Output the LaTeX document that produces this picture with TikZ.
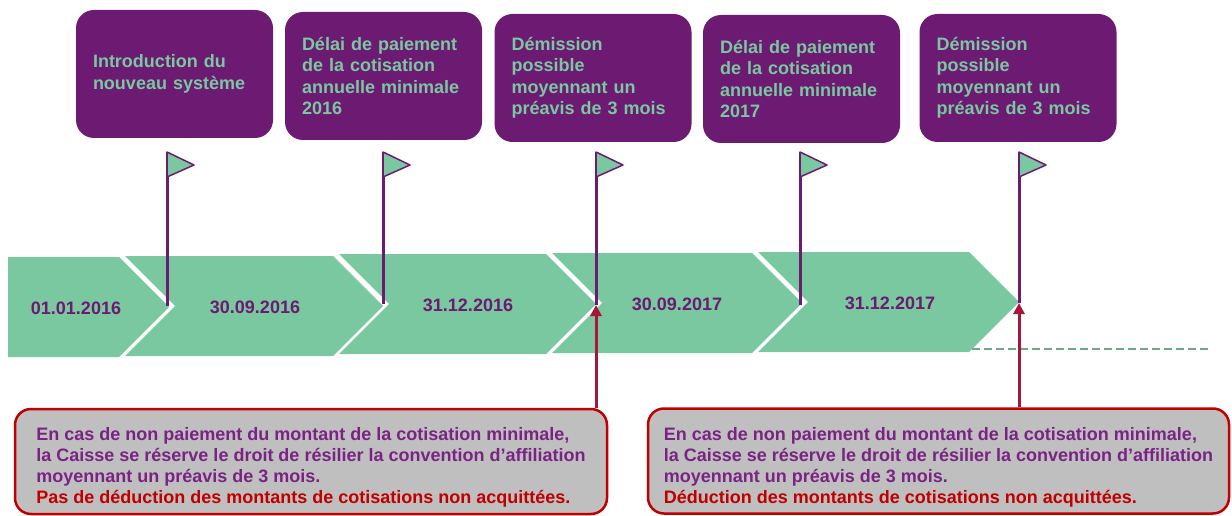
\documentclass[tikz,border=0pt]{standalone}
\usepackage{fontspec}
\setmainfont{Liberation Sans}
\usetikzlibrary{arrows.meta}
\definecolor{plum}{HTML}{6D1A73}
\definecolor{mint}{HTML}{7AC8A0}
\definecolor{notegray}{HTML}{BFBFBF}
\definecolor{notered}{HTML}{C00000}
\definecolor{arrowred}{HTML}{A8173A}
\definecolor{notepurple}{HTML}{7A2384}
\begin{document}
\begin{tikzpicture}[x=1pt,y=-1pt,
  topbox/.style={fill=plum, rounded corners=18pt, text=mint, align=left, text width=163pt,
    inner xsep=17pt, inner ysep=0pt, minimum height=128pt, font=\bfseries\fontsize{18}{21.5}\selectfont},
  datelabel/.style={text=plum, inner sep=0pt, font=\bfseries\fontsize{18}{21}\selectfont},
  notebox/.style={draw=notered, line width=2.5pt, fill=notegray, rounded corners=16pt, text=notepurple,
    align=left, inner ysep=0pt, minimum height=105pt, font=\bfseries\fontsize{18}{21}\selectfont},
  flagpole/.style={draw=plum, line width=3pt},
  flagtri/.style={fill=mint, draw=plum, line width=1.5pt, line join=round},
  redarrow/.style={draw=arrowred, line width=3pt, -{Triangle[length=11pt,width=11pt]}}]
\useasboundingbox (0,0) rectangle (1232,516);

\node[topbox] (box1) at (174.5,74) {Introduction du\\nouveau système};
\node[topbox] (box2) at (383.5,76) {Délai de paiement\\de la cotisation\\annuelle~minimale\\2016};
\node[topbox] (box3) at (593,78) {Démission\\possible\\moyennant~un\\préavis~de~3~mois};
\node[topbox] (box4) at (801.5,79) {Délai de paiement\\de la cotisation\\annuelle~minimale\\2017};
\node[topbox] (box5) at (1018,78) {Démission\\possible\\moyennant~un\\préavis~de~3~mois};

\fill[mint] (8,257) -- (119,257) -- (169,307) -- (119,357) -- (8,357) -- cycle;
\fill[mint] (125,256) -- (333,256) -- (383,306) -- (333,356) -- (125,356) -- (175,306) -- cycle;
\fill[mint] (339,254) -- (546,254) -- (596,304) -- (546,354) -- (339,354) -- (389,304) -- cycle;
\fill[mint] (552,253) -- (752,253) -- (802,303) -- (752,353) -- (552,353) -- (602,303) -- cycle;
\fill[mint] (758,252) -- (969,252) -- (1019,302) -- (969,352) -- (758,352) -- (808,302) -- cycle;

\node[datelabel] (d1) at (76,308) {01.01.2016};
\node[datelabel] (d2) at (255,307) {30.09.2016};
\node[datelabel] (d3) at (468,305) {31.12.2016};
\node[datelabel] (d4) at (677,304) {30.09.2017};
\node[datelabel] (d5) at (890,303) {31.12.2017};

\coordinate (dashA) at (972,349);
\coordinate (dashB) at (1209,349);
\draw[mint!85!black, line width=2.5pt, dash pattern=on 8pt off 4pt] (dashA) -- (dashB);

\coordinate (f1) at (167,152); \coordinate (t1) at (167,306);
\coordinate (f2) at (383,152); \coordinate (t2) at (383,304);
\coordinate (f3) at (596,152); \coordinate (t3) at (596,305);
\coordinate (f4) at (800,152); \coordinate (t4) at (800,305);
\coordinate (f5) at (1019,152); \coordinate (t5) at (1019,303);

\draw[flagpole] (f1) -- (t1);
\draw[flagpole] (f2) -- (t2);
\draw[flagpole] (f3) -- (t3);
\draw[flagpole] (f4) -- (t4);
\draw[flagpole] (f5) -- (t5);
\draw[flagtri] (f1) -- ++(27,13) -- ++(-27,12) -- cycle;
\draw[flagtri] (f2) -- ++(27,13) -- ++(-27,12) -- cycle;
\draw[flagtri] (f3) -- ++(27,13) -- ++(-27,12) -- cycle;
\draw[flagtri] (f4) -- ++(27,13) -- ++(-27,12) -- cycle;
\draw[flagtri] (f5) -- ++(27,13) -- ++(-27,12) -- cycle;

\node[notebox, minimum width=592pt] (note1) at (311,461.5)
  {\rule{0pt}{25pt}En cas de non paiement du montant de la cotisation minimale,\\
   la Caisse se réserve le droit de résilier la convention d’affiliation\\
   moyennant un préavis de 3 mois.\\
   \textcolor{notered}{Pas de déduction des montants de cotisations non acquittées.}};
\node[notebox, minimum width=581pt] (note2) at (938.5,461)
  {\rule{0pt}{25pt}En cas de non paiement du montant de la cotisation minimale,\\
   la Caisse se réserve le droit de résilier la convention d’affiliation\\
   moyennant un préavis de 3 mois.\\
   \textcolor{notered}{Déduction des montants de cotisations non acquittées.}};

\draw[redarrow] (t3 |- note1.north) -- (t3);
\draw[redarrow] (t5 |- note2.north) -- (t5);
\end{tikzpicture}
\end{document}
